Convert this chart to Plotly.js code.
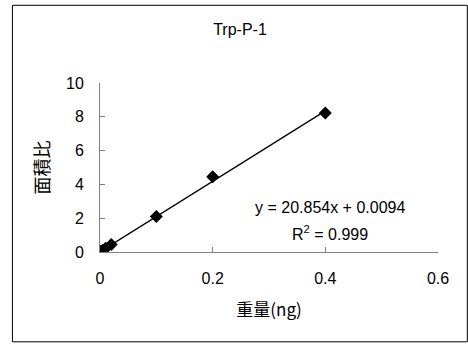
<!DOCTYPE html>
<html>
<head>
<meta charset="utf-8">
<script src="https://cdn.plot.ly/plotly-3.0.1.min.js"></script>
<style>html,body{margin:0;padding:0;background:#fff;}#chart{width:468px;height:344px;}</style>
</head>
<body>
<div id="chart"></div>
<script>
// Data
const weightNg = [0.001, 0.002, 0.005, 0.01, 0.02, 0.1, 0.2, 0.4];
const areaRatio = [0.03, 0.05, 0.11, 0.22, 0.45, 2.1, 4.45, 8.22];
const trendX = [0, 0.4];
const trendY = [0.0094, 8.351];
const xTicks = [0, 0.2, 0.4, 0.6];
const xTickLabels = ['0', '0.2', '0.4', '0.6'];
const yTicks = [0, 2, 4, 6, 8, 10];
const yTickLabels = ['0', '2', '4', '6', '8', '10'];
const chartTitle = 'Trp-P-1';
const xTitle = '重量(ng)';
const yTitle = '面積比';
const eqText = 'y = 20.854x + 0.0094';
const r2Text = 'R<sup>2</sup> = 0.999';

const FONT = 'Liberation Sans, Arial, Noto Sans CJK JP, sans-serif';
const JFONT = 'Noto Sans CJK JP, sans-serif';
const L = 100, R = 30.3, T = 82.7, B = 92.3, W = 468, H = 344;
const pw = W - L - R, ph = H - T - B;

const traces = [
  {x: trendX, y: trendY, mode: 'lines', line: {color: '#000', width: 1.3}, hoverinfo: 'skip'},
  {x: weightNg, y: areaRatio, mode: 'markers', marker: {symbol: 'diamond', size: 10, color: '#000'}}
];

const layout = {
  width: W, height: H,
  margin: {l: L, r: R, t: T, b: B, pad: 0},
  paper_bgcolor: '#fff', plot_bgcolor: '#fff',
  showlegend: false,
  font: {family: FONT, size: 16, color: '#000'},
  title: {text: chartTitle, font: {family: FONT, size: 16, color: '#000'},
          xref: 'container', yref: 'container', x: 240 / W, y: 1 - 29 / H, xanchor: 'center', yanchor: 'middle'},
  xaxis: {
    range: [0, 0.6], tickvals: xTicks, ticktext: xTickLabels,
    showgrid: false, zeroline: false, showline: true, linecolor: '#808080', linewidth: 1,
    ticks: 'inside', ticklen: 5, tickcolor: '#808080',
    ticklabelstandoff: 12,
    tickfont: {family: FONT, size: 16},
    title: {text: xTitle, font: {family: JFONT, size: 17}, standoff: 17}
  },
  yaxis: {
    range: [0, 10], tickvals: yTicks, ticktext: yTickLabels,
    showgrid: false, zeroline: false, showline: true, linecolor: '#808080', linewidth: 1,
    ticks: 'inside', ticklen: 5, tickcolor: '#808080',
    ticklabelstandoff: 12,
    tickfont: {family: FONT, size: 16},
    title: {text: yTitle, font: {family: JFONT, size: 18}, standoff: 11}
  },
  annotations: [
    {x: 0.4087, y: 2.645, xref: 'x', yref: 'y', text: eqText, showarrow: false, xanchor: 'center', yanchor: 'middle', font: {family: FONT, size: 16}},
    {x: 0.4087, y: 1.1, xref: 'x', yref: 'y', text: r2Text, showarrow: false, xanchor: 'center', yanchor: 'middle', font: {family: FONT, size: 16}}
  ],
  shapes: [
    {type: 'rect', xref: 'paper', yref: 'paper',
     x0: (12.5 - L) / pw, x1: (467 - L) / pw,
     y0: (H - B - 341.5) / ph, y1: (H - B - 5) / ph,
     line: {color: '#000', width: 1}, fillcolor: 'rgba(0,0,0,0)', layer: 'below'}
  ]
};

Plotly.newPlot('chart', traces, layout, {displayModeBar: false, staticPlot: true});
</script>
</body>
</html>
